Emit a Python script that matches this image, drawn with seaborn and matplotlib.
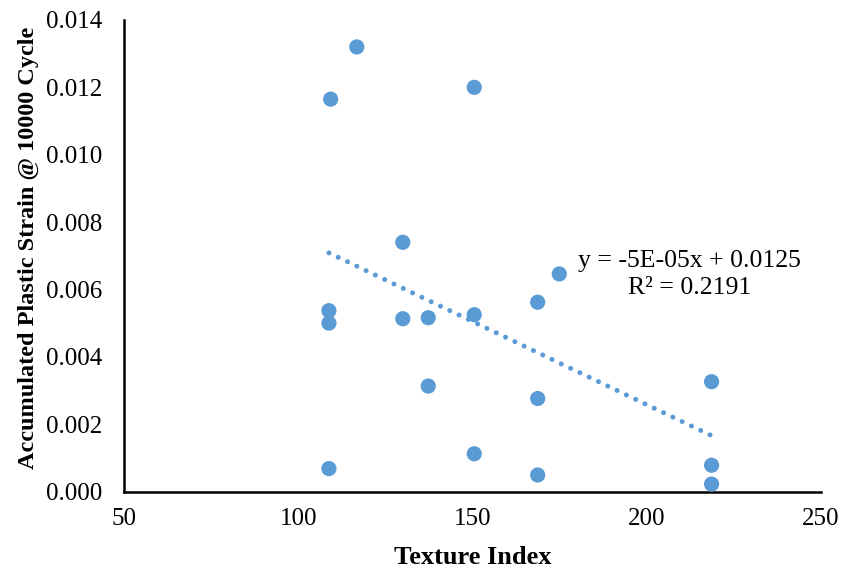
import numpy as np
import pandas as pd
import matplotlib
matplotlib.use("Agg")
import matplotlib.pyplot as plt
import seaborn as sns

texture_index = [108.8, 108.8, 109.3, 116.8, 130.0, 130.0, 137.3, 137.3,
                 150.5, 150.5, 150.5, 168.7, 168.7, 168.7, 174.9,
                 218.6, 218.6, 218.6, 108.8]
plastic_strain = [0.00537, 0.00500, 0.01165, 0.01320, 0.00740, 0.00513, 0.00516, 0.00313,
                  0.01200, 0.00525, 0.00112, 0.00562, 0.00276, 0.00049, 0.00646,
                  0.00326, 0.00078, 0.00022, 0.00068]

x_ticks = [50, 100, 150, 200, 250]
y_ticks = [0.000, 0.002, 0.004, 0.006, 0.008, 0.010, 0.012, 0.014]
equation_text = "y = -5E-05x + 0.0125\nR\u00b2 = 0.2191"

df = pd.DataFrame({"Texture Index": texture_index,
                   "Strain": plastic_strain})

sns.set_style("white")
plt.rcParams["font.family"] = ["Liberation Serif", "DejaVu Serif"]
plt.rcParams["text.color"] = "black"
plt.rcParams["axes.labelcolor"] = "black"

blue = "#5B9BD5"
fig = plt.figure(figsize=(8.45, 5.76), dpi=100)
ax = fig.add_axes([124 / 845, 1 - 491.5 / 576, (821 - 124) / 845, (491.5 - 20) / 576])

sns.scatterplot(data=df, x="Texture Index", y="Strain", ax=ax, s=120,
                color=blue, edgecolor="none", zorder=3, clip_on=False)

# linear trend line over data range
slope, intercept = np.polyfit(df["Texture Index"], df["Strain"], 1)
xr = np.array([df["Texture Index"].min(), df["Texture Index"].max()])
ax.plot(xr, slope * xr + intercept, color=blue, lw=3.6,
        linestyle=(0, (0.01, 2.05)), dash_capstyle="round", zorder=2)

ax.text(212.2, 0.00643, equation_text, ha="center", va="center",
        fontsize=18.5, linespacing=1.3, color="black")

ax.set_xlim(50, 250)
ax.set_ylim(0, 0.014)
ax.set_xticks(x_ticks)
ax.set_yticks(y_ticks)
ax.set_xticklabels([str(v) for v in x_ticks])
ax.set_yticklabels([f"{v:.3f}" for v in y_ticks])
ax.tick_params(axis="both", direction="in", length=7, width=1.5,
               labelsize=18, color="black", labelcolor="black")
ax.tick_params(axis="y", pad=16)
ax.tick_params(axis="x", pad=12)

for side in ["top", "right"]:
    ax.spines[side].set_visible(False)
for side in ["left", "bottom"]:
    ax.spines[side].set_color("black")
    ax.spines[side].set_linewidth(1.8)

ax.set_xlabel("Texture Index", fontsize=19, fontweight="bold")
ax.set_ylabel("Accumulated Plastic Strain @ 10000 Cycle", fontsize=17.5,
              fontweight="bold")
ax.xaxis.set_label_coords(0.5, -0.115)
ax.yaxis.set_label_coords(-0.122, 0.516)

fig.savefig("out.png", dpi=100)
